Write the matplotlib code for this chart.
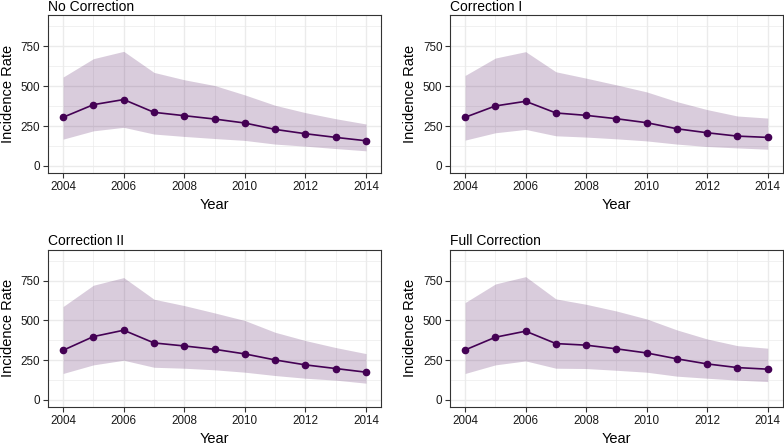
import matplotlib
matplotlib.use('Agg')
import matplotlib.pyplot as plt
from matplotlib.ticker import MultipleLocator

plt.rcParams['font.family'] = ['Liberation Sans', 'DejaVu Sans']

years = list(range(2004, 2015))

titles = ['No Correction', 'Correction I', 'Correction II', 'Full Correction']

mean_no = [305, 384, 416, 336, 315, 294, 269, 229, 202, 179, 158]
upper_no = [557, 672, 718, 586, 540, 504, 445, 380, 334, 296, 263]
lower_no = [168, 220, 242, 200, 185, 172, 160, 137, 124, 109, 95]

mean_c1 = [305, 376, 405, 332, 317, 296, 271, 233, 208, 187, 179]
upper_c1 = [567, 676, 716, 590, 550, 508, 464, 403, 353, 313, 300]
lower_c1 = [162, 208, 229, 189, 181, 170, 157, 137, 122, 113, 105]

mean_c2 = [312, 398, 438, 358, 339, 318, 289, 251, 220, 197, 174]
upper_c2 = [587, 721, 769, 633, 593, 547, 499, 425, 373, 329, 291]
lower_c2 = [166, 220, 249, 205, 199, 189, 174, 153, 136, 124, 105]

mean_full = [314, 394, 432, 354, 344, 321, 295, 258, 226, 203, 193]
upper_full = [612, 729, 775, 635, 601, 559, 509, 440, 383, 341, 325]
lower_full = [166, 220, 245, 199, 197, 186, 174, 149, 136, 124, 115]

means = [mean_no, mean_c1, mean_c2, mean_full]
uppers = [upper_no, upper_c1, upper_c2, upper_full]
lowers = [lower_no, lower_c1, lower_c2, lower_full]

line_col = '#440154'
grid_col = '#ebebeb'

fig = plt.figure(figsize=(7.84, 4.44), dpi=100)

# axes boxes in figure fractions: left, bottom, width, height
boxes = [
    (0.0612, 0.610, 0.425, 0.356),
    (0.5740, 0.610, 0.4245, 0.356),
    (0.0612, 0.0833, 0.425, 0.3545),
    (0.5740, 0.0833, 0.4245, 0.3545),
]

for i, box in enumerate(boxes):
    ax = fig.add_axes(box)
    ax.fill_between(years, lowers[i], uppers[i], color=line_col,
                    alpha=0.2, linewidth=0, zorder=2)
    ax.plot(years, means[i], color=line_col, lw=1.2, marker='o',
            markersize=4.5, zorder=3)

    ax.set_xlim(2003.5, 2014.5)
    ax.set_ylim(-45, 945)
    ax.xaxis.set_major_locator(MultipleLocator(2))
    ax.xaxis.set_minor_locator(MultipleLocator(1))
    ax.set_yticks([0, 250, 500, 750])
    ax.set_yticks([125, 375, 625, 875], minor=True)

    ax.grid(True, which='major', color=grid_col, lw=1.0, zorder=0)
    ax.grid(True, which='minor', color=grid_col, lw=0.5, zorder=0)
    ax.set_axisbelow(True)

    for s in ax.spines.values():
        s.set_color('#333333')
        s.set_linewidth(0.8)

    ax.tick_params(which='major', length=3.5, width=0.8, color='#333333',
                   labelsize=8.4, labelcolor='#1a1a1a', pad=2)
    ax.tick_params(which='minor', length=0)

    ax.set_xlabel('Year', fontsize=10.5, labelpad=4)
    ax.set_ylabel('Incidence Rate', fontsize=10.5, labelpad=4)
    ax.set_title(titles[i], loc='left', fontsize=10, pad=3)

fig.savefig('out.png', dpi=100)
plt.close(fig)
